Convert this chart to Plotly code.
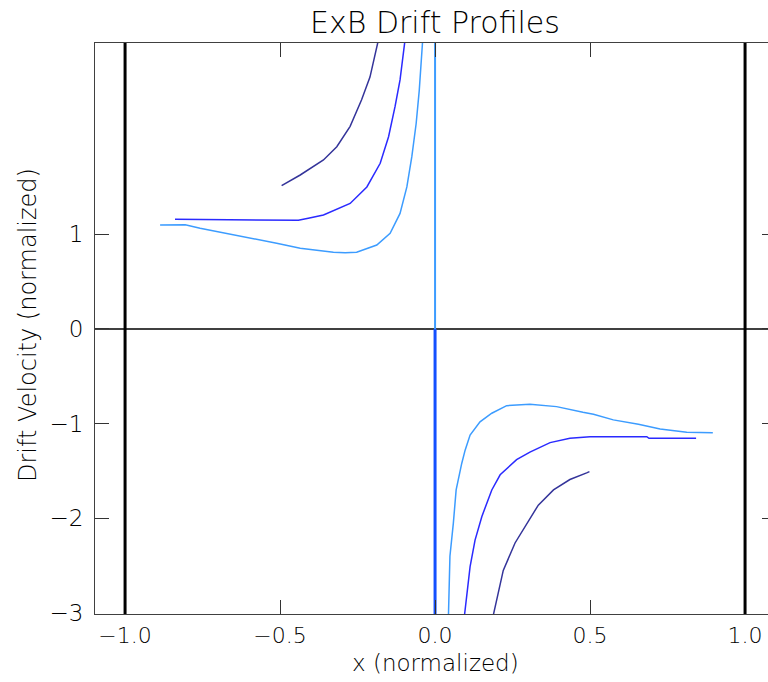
import plotly.graph_objects as go

# ---- data ----
left_light_x = [-0.887, -0.806, -0.758, -0.683, -0.597, -0.511, -0.435, -0.37, -0.328, -0.29, -0.253,
                -0.188, -0.145, -0.113, -0.091, -0.075, -0.061, -0.051, -0.04]
left_light_y = [1.098, 1.10, 1.063, 1.017, 0.965, 0.905, 0.852, 0.825, 0.81, 0.805, 0.81,
                0.887, 1.01, 1.22, 1.50, 1.82, 2.17, 2.52, 3.05]
right_light_x = [0.043, 0.048, 0.059, 0.068, 0.086, 0.097, 0.113, 0.145, 0.183, 0.231, 0.306,
                 0.392, 0.477, 0.511, 0.575, 0.656, 0.726, 0.812, 0.896]
right_light_y = [-3.05, -2.40, -2.05, -1.70, -1.42, -1.28, -1.12, -0.98, -0.89, -0.81, -0.795,
                 -0.82, -0.88, -0.90, -0.96, -1.006, -1.056, -1.09, -1.095]

left_mid_x = [-0.839, -0.674, -0.441, -0.409, -0.36, -0.274, -0.22, -0.177, -0.15, -0.129, -0.113, -0.097]
left_mid_y = [1.158, 1.155, 1.148, 1.17, 1.204, 1.326, 1.50, 1.75, 2.03, 2.35, 2.63, 3.05]
right_mid_x = [0.094, 0.113, 0.129, 0.151, 0.183, 0.21, 0.263, 0.306, 0.371, 0.435, 0.5, 0.683, 0.69, 0.842]
right_mid_y = [-3.05, -2.51, -2.23, -1.98, -1.70, -1.54, -1.38, -1.30, -1.20, -1.155, -1.137, -1.137,
               -1.155, -1.155]

left_dark_x = [-0.495, -0.435, -0.36, -0.317, -0.274, -0.237, -0.21, -0.183]
left_dark_y = [1.513, 1.626, 1.785, 1.925, 2.14, 2.42, 2.66, 3.05]
right_dark_x = [0.186, 0.22, 0.258, 0.296, 0.333, 0.382, 0.435, 0.489, 0.498]
right_dark_y = [-3.05, -2.55, -2.26, -2.05, -1.86, -1.70, -1.59, -1.52, -1.507]

center_x = [0.0, 0.0]
center_up_y = [0.0, 3.05]
center_down_y = [0.0, -3.05]

boundary_x = [-1.0, 1.0]

x_ticks = [-1.0, -0.5, 0.0, 0.5, 1.0]
y_ticks = [-3, -2, -1, 0, 1]

LIGHT = "#3c9cff"
MID = "#2a2aff"
DARK = "#34349a"
CBLUE = "#1450ff"

fig = go.Figure()
for xs, ys, c in [(left_light_x, left_light_y, LIGHT), (right_light_x, right_light_y, LIGHT),
                  (left_mid_x, left_mid_y, MID), (right_mid_x, right_mid_y, MID),
                  (left_dark_x, left_dark_y, DARK), (right_dark_x, right_dark_y, DARK)]:
    fig.add_trace(go.Scatter(x=xs, y=ys, mode="lines", line=dict(color=c, width=1.5),
                             showlegend=False, hoverinfo="skip"))

fig.add_trace(go.Scatter(x=center_x, y=center_up_y, mode="lines", line=dict(color=LIGHT, width=2),
                         showlegend=False, hoverinfo="skip"))
fig.add_trace(go.Scatter(x=center_x, y=center_down_y, mode="lines", line=dict(color=CBLUE, width=3),
                         showlegend=False, hoverinfo="skip"))

for bx in boundary_x:
    fig.add_shape(type="line", xref="x", yref="paper", x0=bx, x1=bx, y0=0, y1=1,
                  line=dict(color="black", width=3))

FONT = "DejaVu Sans"
W, H = 768, 682
L, R, T, B = 95, 0, 43, 68
PW, PH = W - L - R, H - T - B
fig.update_layout(
    width=W, height=H,
    margin=dict(l=L, r=R, t=T, b=B),
    paper_bgcolor="white", plot_bgcolor="white",
    font=dict(family=FONT, size=24, color="black", weight=200),
    title=dict(text="ExB Drift Profiles", xref="container", yref="container",
               x=435 / W, y=1 - 22 / H, xanchor="center", yanchor="middle",
               font=dict(size=30, family=FONT, color="black", weight=200)),
    xaxis=dict(range=[-1.097, 1.074], tickvals=x_ticks, tickformat=".1f",
               ticks="inside", ticklen=14, tickcolor="#333", tickwidth=1,
               showline=True, linecolor="#404040", linewidth=1, mirror="ticks",
               showgrid=False, zeroline=False, ticklabelstandoff=2,
               tickfont=dict(size=22, family=FONT, weight=200)),
    yaxis=dict(range=[-3.01, 3.02], tickvals=y_ticks, tickformat="d",
               ticks="inside", ticklen=14, tickcolor="#333", tickwidth=1,
               showline=True, linecolor="#404040", linewidth=1, mirror=False,
               showgrid=False, zeroline=True, zerolinecolor="#404040", zerolinewidth=1.5,
               ticklabelstandoff=6,
               tickfont=dict(size=23, family=FONT, weight=200)),
    yaxis2=dict(range=[-3.01, 3.02], tickvals=y_ticks, overlaying="y", side="right",
                ticks="inside", ticklen=6, tickcolor="#333", showticklabels=False,
                showline=False, showgrid=False, zeroline=False),
    annotations=[
        dict(text="x (normalized)", xref="paper", yref="paper", x=(435 - L) / PW,
             y=-(663 - (H - B)) / PH, xanchor="center", yanchor="middle", showarrow=False,
             font=dict(size=23, family=FONT, weight=200)),
        dict(text="Drift Velocity (normalized)", xref="paper", yref="paper",
             x=-(L - 28) / PW, y=((H - B) - 325) / PH, xanchor="center", yanchor="middle",
             textangle=-90, showarrow=False, font=dict(size=24, family=FONT, weight=200)),
    ],
)
fig.add_trace(go.Scatter(x=[None], y=[None], yaxis="y2", showlegend=False, hoverinfo="skip"))

fig.write_html("out.html", config={"displayModeBar": False},
               post_script="document.body.style.margin='0';document.body.style.overflow='hidden';")
